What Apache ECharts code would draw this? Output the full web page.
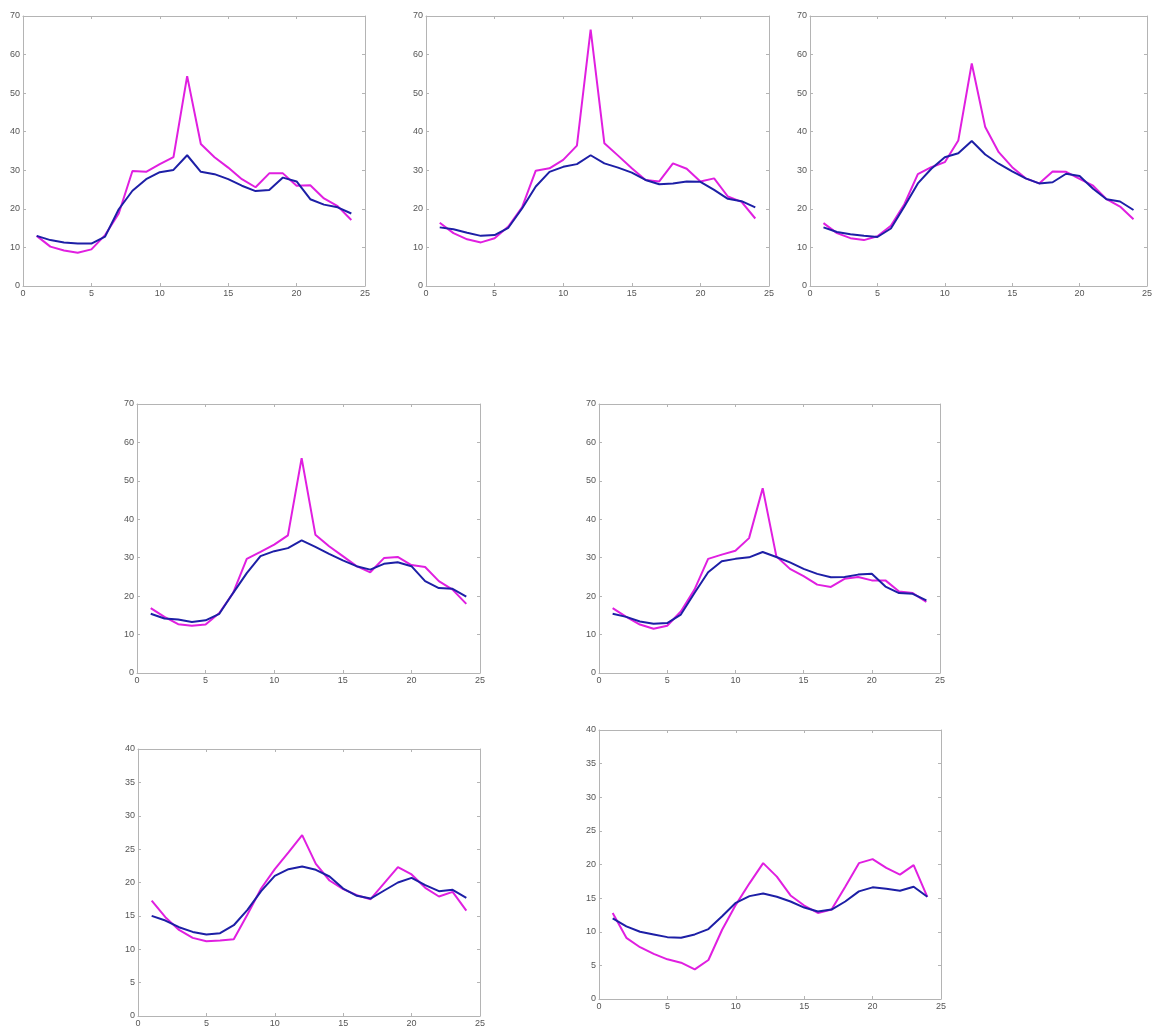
<!DOCTYPE html>
<html>
<head>
<meta charset="utf-8">
<script src="https://cdn.jsdelivr.net/npm/echarts@6/dist/echarts.min.js"></script>
<style>
html,body{margin:0;padding:0;background:#fff;}
#chart{width:1155px;height:1028px;}
</style>
</head>
<body>
<div id="chart"></div>
<script>
// x values (hour index)
var hours = [1,2,3,4,5,6,7,8,9,10,11,12,13,14,15,16,17,18,19,20,21,22,23,24];
// x tick labels
var xTicks = [0,5,10,15,20,25];
// y tick labels
var yTicksTall = [0,10,20,30,40,50,60,70];
var yTicksShort = [0,5,10,15,20,25,30,35,40];

// Panel 1
var magenta1 = [13.0,10.2,9.2,8.6,9.5,13.2,18.8,29.8,29.6,31.6,33.4,54.4,36.8,33.4,30.7,27.7,25.6,29.2,29.2,26.0,26.1,22.7,20.7,17.1];
var blue1    = [13.0,11.9,11.3,11.0,11.0,12.8,19.9,24.7,27.7,29.5,30.1,33.9,29.6,29.0,27.7,26.0,24.6,24.9,28.1,27.1,22.5,21.1,20.4,18.8];
// Panel 2
var magenta2 = [16.4,13.7,12.1,11.3,12.4,15.4,20.4,29.9,30.5,32.7,36.4,66.5,37.0,33.8,30.5,27.5,27.1,31.8,30.4,27.1,27.9,23.2,21.8,17.5];
var blue2    = [15.2,14.7,13.8,13.0,13.2,15.1,20.1,25.8,29.6,30.9,31.6,33.9,31.8,30.7,29.4,27.5,26.4,26.6,27.1,27.0,24.9,22.6,22.0,20.4];
// Panel 3
var magenta3 = [16.3,13.7,12.4,11.9,12.9,15.6,21.2,29.0,30.8,32.1,37.7,57.7,41.2,34.7,30.8,27.9,26.6,29.7,29.6,27.8,26.0,22.5,20.6,17.3];
var blue3    = [15.2,14.0,13.4,13.0,12.7,14.9,20.6,26.6,30.4,33.4,34.4,37.6,34.1,31.7,29.7,27.9,26.6,26.9,29.1,28.5,25.2,22.5,21.9,19.7];
// Panel 4
var magenta4 = [16.9,14.6,12.7,12.3,12.6,15.6,20.8,29.7,31.5,33.4,35.8,55.9,36.0,33.0,30.4,27.8,26.2,29.9,30.2,28.1,27.6,23.9,21.7,18.0];
var blue4    = [15.4,14.2,13.9,13.3,13.7,15.4,20.8,26.0,30.4,31.7,32.5,34.5,32.8,31.0,29.3,27.8,26.9,28.4,28.8,27.8,23.9,22.1,21.9,19.9];
// Panel 5
var magenta5 = [16.9,14.6,12.6,11.5,12.3,16.0,21.7,29.7,30.8,31.8,35.1,48.1,30.4,27.1,25.2,23.0,22.4,24.5,25.0,24.1,24.1,21.2,20.8,18.5];
var blue5    = [15.4,14.6,13.4,12.8,13.0,15.2,20.8,26.2,29.1,29.7,30.1,31.5,30.2,28.8,27.1,25.8,24.9,25.0,25.6,25.8,22.5,20.8,20.6,18.9];
// Panel 6
var magenta6 = [17.3,14.8,12.9,11.7,11.2,11.3,11.5,15.2,19.1,22.0,24.5,27.1,22.8,20.3,19.0,18.1,17.5,19.9,22.3,21.2,19.2,17.9,18.6,15.8];
var blue6    = [15.0,14.3,13.3,12.6,12.2,12.4,13.6,15.9,18.7,21.0,22.0,22.4,21.9,20.9,19.1,18.0,17.6,18.8,20.0,20.7,19.6,18.7,18.9,17.7];
// Panel 7
var magenta7 = [12.8,9.1,7.7,6.7,5.9,5.4,4.4,5.8,10.3,14.0,17.2,20.2,18.2,15.4,13.9,12.8,13.3,16.7,20.2,20.8,19.5,18.5,19.9,15.2];
var blue7    = [12.0,10.8,10.0,9.6,9.2,9.1,9.6,10.4,12.3,14.3,15.3,15.7,15.2,14.5,13.6,13.0,13.3,14.5,16.0,16.6,16.4,16.1,16.7,15.2];

var panels = [
  {m: magenta1, b: blue1, ticks: yTicksTall},
  {m: magenta2, b: blue2, ticks: yTicksTall},
  {m: magenta3, b: blue3, ticks: yTicksTall},
  {m: magenta4, b: blue4, ticks: yTicksTall},
  {m: magenta5, b: blue5, ticks: yTicksTall},
  {m: magenta6, b: blue6, ticks: yTicksShort},
  {m: magenta7, b: blue7, ticks: yTicksShort}
];

// layout boxes (pixels)
var boxes = [
  {left: 23,  top: 16,  width: 342, height: 270},
  {left: 426, top: 16,  width: 343, height: 270},
  {left: 810, top: 16,  width: 342, height: 270},
  {left: 137, top: 404, width: 343, height: 269},
  {left: 599, top: 404, width: 341, height: 269},
  {left: 138, top: 749, width: 342, height: 271},
  {left: 599, top: 730, width: 342, height: 269}
];

var MAG = '#e01fe0';
var BLU = '#1d1fa6';
var AX = '#b4b4b4';
var LBL = '#555555';
var FONT = 'Liberation Sans, Arial, sans-serif';

var grid = [], xAxis = [], yAxis = [], series = [];
panels.forEach(function (p, i) {
  var bx = boxes[i];
  grid.push({left: bx.left, top: bx.top, width: bx.width, height: bx.height, containLabel: false,
             show: false});
  var yMax = p.ticks[p.ticks.length - 1];
  var yInt = p.ticks[1] - p.ticks[0];
  var xInt = xTicks[1] - xTicks[0];
  var xMax = xTicks[xTicks.length - 1];
  var common = {
    axisLine: {show: true, onZero: false, lineStyle: {color: AX, width: 1}},
    axisTick: {show: true, inside: true, length: 3, lineStyle: {color: AX}},
    splitLine: {show: false}
  };
  xAxis.push(Object.assign({gridIndex: i, type: 'value', position: 'bottom', min: 0, max: xMax, interval: xInt,
    axisLabel: {show: true, color: LBL, fontSize: 9, fontFamily: FONT, margin: 3}}, common));
  xAxis.push(Object.assign({gridIndex: i, type: 'value', position: 'top', min: 0, max: xMax, interval: xInt,
    axisLabel: {show: false}}, common));
  yAxis.push(Object.assign({gridIndex: i, type: 'value', position: 'left', min: 0, max: yMax, interval: yInt,
    axisLabel: {show: true, color: LBL, fontSize: 9, fontFamily: FONT, margin: 3}}, common));
  yAxis.push(Object.assign({gridIndex: i, type: 'value', position: 'right', min: 0, max: yMax, interval: yInt,
    axisLabel: {show: false}}, common));
  var mData = hours.map(function (h, k) { return [h, p.m[k]]; });
  var bData = hours.map(function (h, k) { return [h, p.b[k]]; });
  series.push({type: 'line', xAxisIndex: 2 * i, yAxisIndex: 2 * i, data: mData, symbol: 'none',
    lineStyle: {color: MAG, width: 2}, itemStyle: {color: MAG}, animation: false, z: 2});
  series.push({type: 'line', xAxisIndex: 2 * i, yAxisIndex: 2 * i, data: bData, symbol: 'none',
    lineStyle: {color: BLU, width: 2}, itemStyle: {color: BLU}, animation: false, z: 3});
});

var chart = echarts.init(document.getElementById('chart'), null, {renderer: 'canvas'});
chart.setOption({
  backgroundColor: '#ffffff',
  animation: false,
  grid: grid,
  xAxis: xAxis,
  yAxis: yAxis,
  series: series
});
</script>
</body>
</html>
